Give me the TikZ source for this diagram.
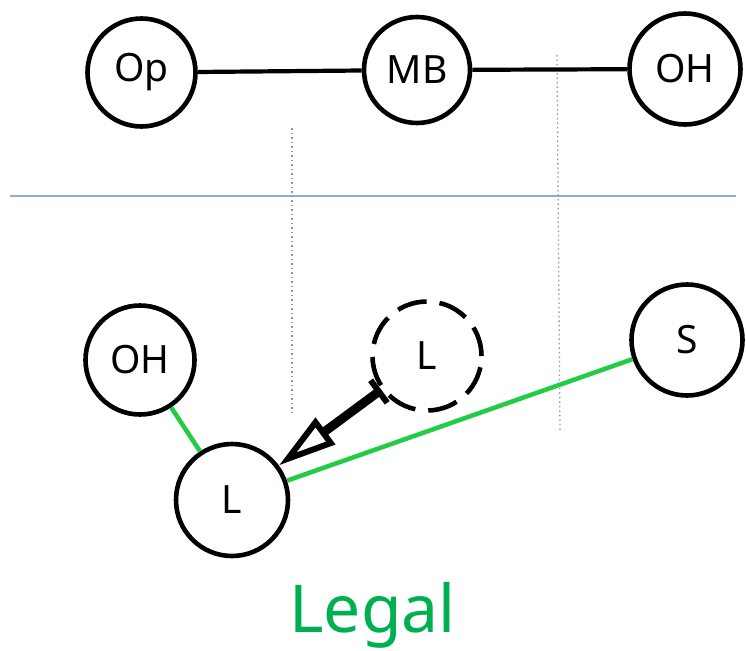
\documentclass[tikz,border=0pt]{standalone}
\usepackage{fontspec}
\setmainfont{Noto Sans}
\usetikzlibrary{arrows.meta}
\definecolor{lgreen}{RGB}{34,204,68}
\definecolor{tgreen}{RGB}{0,176,80}
\definecolor{hblue}{RGB}{143,170,220}
\definecolor{vgray}{RGB}{140,150,175}
\tikzset{
  ball/.style={circle, draw=black, line width=4.6pt, inner sep=0pt, font=\fontsize{39}{41}\selectfont},
  ghost/.style={ball, dash pattern=on 30pt off 13pt},
  link/.style={line width=4.2pt, black},
  legal/.style={line width=4.5pt, lgreen},
  guide/.style={vgray, line width=1.3pt, dash pattern=on 1.5pt off 3pt},
  move/.style={line width=9pt, black, {Bar[width=28pt, line width=6pt]}-{Triangle[open, length=58pt, width=32pt, line width=6pt]}},
}
\begin{document}
\begin{tikzpicture}[x=1pt,y=-1pt]
\useasboundingbox (0,0) rectangle (746,650);
% guide lines
\coordinate (h1) at (10,196);
\coordinate (h2) at (736,196);
\draw[hblue, line width=1.8pt] (h1) -- (h2);
\coordinate (v1a) at (292,128);
\coordinate (v1b) at (292,414);
\coordinate (v2a) at (557,55);
\coordinate (v2b) at (560,433);
\draw[guide] (v1a) -- (v1b);
\draw[guide] (v2a) -- (v2b);
% top row
\node[ball, minimum size=108pt] (op) at (141.5,72.5) {Op};
\node[ball, minimum size=106pt] (mb) at (417,70) {MB};
\node[ball, minimum size=111pt] (oh1) at (685,69) {OH};
\draw[link] (op) -- (mb);
\draw[link] (mb) -- (oh1);
% bottom
\node[ball, minimum size=109pt] (oh2) at (140,360) {OH};
\node[ball, minimum size=112pt] (l) at (232,500) {L};
\node[ball, minimum size=111pt] (s) at (687,340) {S};
\node[ghost, minimum size=109pt] (dl) at (427,356) {L};
\draw[legal] (oh2) -- (l);
\draw[legal] (l) -- (s);
\draw[move] (dl) -- (l);
% label
\node[font=\fontsize{66}{70}\selectfont, text=tgreen, anchor=base] (lbl) at (372.5,632) {Legal};
\end{tikzpicture}
\end{document}
